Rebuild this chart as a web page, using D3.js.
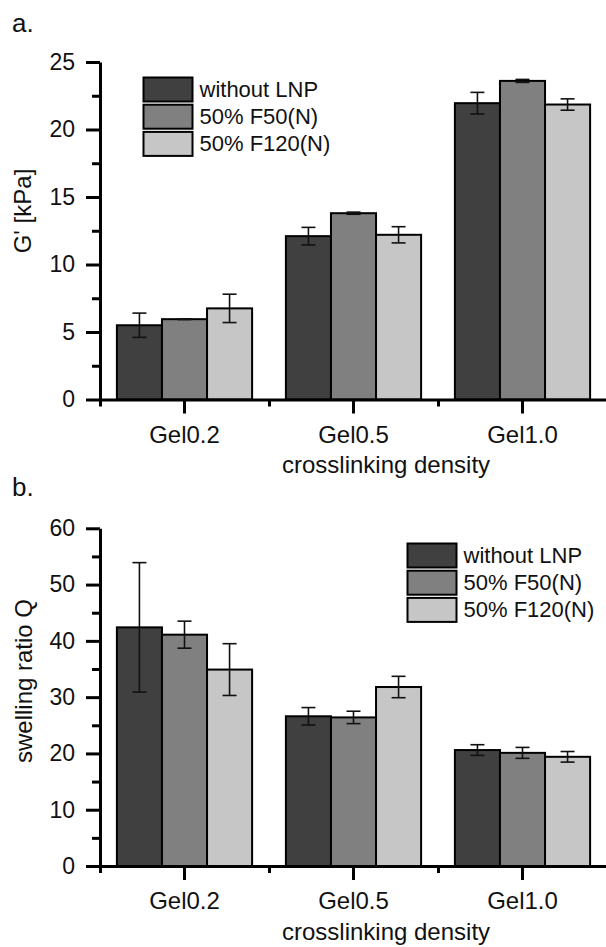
<!DOCTYPE html>
<html><head><meta charset="utf-8">
<script src="https://cdn.jsdelivr.net/npm/d3@7"></script>
<style>
body{margin:0;background:#fff}
svg{display:block}
text{font-family:"Liberation Sans",Arial,sans-serif;fill:#111}
</style>
</head><body>
<svg id="c" width="606" height="947"></svg>
<script>
const categories = ["Gel0.2", "Gel0.5", "Gel1.0"];
const seriesNames = ["without LNP", "50% F50(N)", "50% F120(N)"];
const seriesColors = ["#404040", "#808080", "#c6c6c6"];
const modulusValues = [[5.5, 12.1, 21.95], [5.95, 13.8, 23.6], [6.75, 12.2, 21.85]];
const modulusErrors = [[0.9, 0.65, 0.8], [0.03, 0.08, 0.11], [1.05, 0.6, 0.42]];
const swellingValues = [[42.4, 26.6, 20.6], [41.1, 26.4, 20.1], [34.9, 31.8, 19.4]];
const swellingErrors = [[11.5, 1.55, 0.95], [2.4, 1.1, 0.97], [4.6, 1.9, 0.94]];
const modulusTicks = [0, 5, 10, 15, 20, 25];
const modulusMinor = [2.5, 7.5, 12.5, 17.5, 22.5];
const swellingTicks = [0, 10, 20, 30, 40, 50, 60];
const swellingMinor = [5, 15, 25, 35, 45, 55];

const svg = d3.select("#c");

function panel(o) {
  const g = svg.append("g");
  const x = d3.scaleBand().domain(categories).range([100, 607]).paddingInner(0.2).paddingOuter(0.1);
  const xs = d3.scaleBand().domain(d3.range(seriesNames.length)).range([0, x.bandwidth()]).padding(0);
  const xb = d3.scaleLinear().domain([0, categories.length]).range([100, 607]);
  const y = d3.scaleLinear().domain(o.domain).range(o.range);

  // bars
  o.values.forEach((vals, s) => {
    g.selectAll(null).data(vals).enter().append("rect")
      .attr("x", (d, i) => x(categories[i]) + xs(s))
      .attr("y", d => y(d))
      .attr("width", xs.bandwidth())
      .attr("height", d => y(0) - y(d))
      .attr("fill", seriesColors[s])
      .attr("stroke", "#000").attr("stroke-width", 2);
  });
  // error bars
  o.values.forEach((vals, s) => {
    vals.forEach((v, i) => {
      const cx = x(categories[i]) + xs(s) + xs.bandwidth() / 2;
      const e = o.errors[s][i];
      const eg = g.append("g").attr("stroke", "#111").attr("stroke-width", 1.6);
      eg.append("line").attr("x1", cx).attr("x2", cx).attr("y1", y(v + e)).attr("y2", y(v - e));
      [v + e, v - e].forEach(t => eg.append("line").attr("x1", cx - 7).attr("x2", cx + 7).attr("y1", y(t)).attr("y2", y(t)));
    });
  });

  // y axis
  const ya = g.append("g").attr("transform", "translate(100,0)")
    .call(d3.axisLeft(y).tickValues(o.ticks).tickSize(14).tickSizeOuter(0).tickPadding(11));
  g.append("g").attr("transform", "translate(100,0)")
    .call(d3.axisLeft(y).tickValues(o.minor).tickSize(8).tickFormat(""))
    .call(a => a.select(".domain").remove());
  // x axis
  const xa = g.append("g").attr("transform", `translate(0,${o.range[0]})`)
    .call(d3.axisBottom(x).tickSize(14).tickSizeOuter(0).tickPadding(12));
  g.append("g").attr("transform", `translate(0,${o.range[0]})`)
    .call(d3.axisBottom(xb).tickValues(d3.range(categories.length + 1)).tickSize(7).tickFormat(""))
    .call(a => a.select(".domain").remove());

  g.selectAll(".domain, .tick line").attr("stroke", "#000").attr("stroke-width", 3);
  ya.selectAll(".tick text").attr("font-size", 23).attr("fill", "#111").attr("font-family", "Liberation Sans, Arial, sans-serif");
  xa.selectAll(".tick text").attr("font-size", 24).attr("fill", "#111").attr("font-family", "Liberation Sans, Arial, sans-serif");

  // titles
  g.append("text").attr("x", 12).attr("y", o.letterY).attr("font-size", 26).text(o.letter);
  g.append("text").attr("x", 386).attr("y", o.xTitleY).attr("text-anchor", "middle").attr("font-size", 24).text("crosslinking density");
  g.append("text").attr("transform", `translate(${o.yTitleX},${o.yTitleY}) rotate(-90)`)
    .attr("text-anchor", "middle").attr("font-size", 24).text(o.yTitle);

  // legend
  const lg = g.append("g");
  seriesNames.forEach((n, s) => {
    lg.append("rect").attr("x", o.legX).attr("y", o.legY + s * 27.2).attr("width", 49).attr("height", 24)
      .attr("fill", seriesColors[s]).attr("stroke", "#000").attr("stroke-width", 2);
    lg.append("text").attr("x", o.legX + 56).attr("y", o.legY + s * 27.2 + 19.5).attr("font-size", 22).text(n);
  });
}

panel({
  values: modulusValues, errors: modulusErrors, domain: [0, 25], range: [399.5, 62],
  ticks: modulusTicks, minor: modulusMinor, letter: "a.", letterY: 32, xTitleY: 473,
  yTitle: "G' [kPa]", yTitleX: 31, yTitleY: 211, legX: 143.5, legY: 77.5
});
panel({
  values: swellingValues, errors: swellingErrors, domain: [0, 60], range: [866, 528.3],
  ticks: swellingTicks, minor: swellingMinor, letter: "b.", letterY: 496, xTitleY: 940,
  yTitle: "swelling ratio Q", yTitleX: 32, yTitleY: 681, legX: 407.5, legY: 543.5
});
</script>
</body></html>
